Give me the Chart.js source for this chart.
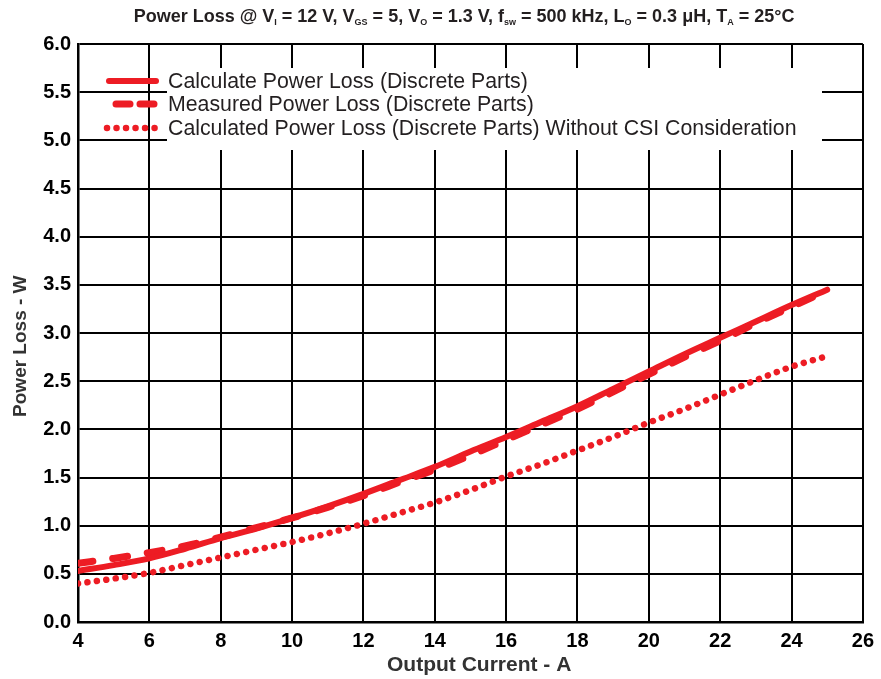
<!DOCTYPE html>
<html>
<head>
<meta charset="utf-8">
<script src="https://cdn.jsdelivr.net/npm/chart.js@4.4.0/dist/chart.umd.min.js"></script>
<style>
    html, body { margin: 0; padding: 0; background: #fff; }
    #wrap { width: 881px; height: 679px; }
</style>
</head>
<body>
<div id="wrap"><canvas id="lossChart" width="881" height="679"></canvas></div>
<script>
// Output current (A)
const currents = [4, 5, 6, 7, 8, 9, 10, 11, 12, 13, 14, 15, 16, 17, 18, 19, 20, 21, 22, 23, 24, 25];
// Power loss (W)
const calcLoss  = [0.53, 0.59, 0.66, 0.76, 0.87, 0.97, 1.08, 1.20, 1.33, 1.47, 1.61, 1.77, 1.92, 2.08, 2.24, 2.42, 2.60, 2.78, 2.95, 3.12, 3.29, 3.45];
const measLoss  = [0.61, 0.66, 0.72, 0.79, 0.88, 0.98, 1.08, 1.19, 1.31, 1.45, 1.58, 1.73, 1.89, 2.05, 2.21, 2.39, 2.57, 2.75, 2.92, 3.10, 3.27, 3.44];
const noCsiLoss = [0.40, 0.45, 0.51, 0.59, 0.67, 0.75, 0.83, 0.92, 1.02, 1.13, 1.24, 1.37, 1.51, 1.64, 1.78, 1.92, 2.07, 2.21, 2.36, 2.51, 2.65, 2.76];

const seriesLabels = [
    'Calculate Power Loss (Discrete Parts)',
    'Measured Power Loss (Discrete Parts)',
    'Calculated Power Loss (Discrete Parts) Without CSI Consideration'
];
const xTicks = [4, 6, 8, 10, 12, 14, 16, 18, 20, 22, 24, 26];
const yTicks = [0, 0.5, 1, 1.5, 2, 2.5, 3, 3.5, 4, 4.5, 5, 5.5, 6];

// title pieces: [text, isSubscript]
const titleParts = [
    ['Power Loss @ V', false], ['I', true], [' = 12 V, V', false], ['GS', true],
    [' = 5, V', false], ['O', true], [' = 1.3 V, f', false], ['sw', true],
    [' = 500 kHz, L', false], ['O', true], [' = 0.3 \u03bcH, T', false], ['A', true],
    [' = 25\u00b0C', false]
];

const RED = '#ed1c24';
const FONT = '"Liberation Sans", Arial, Helvetica, sans-serif';

const toPoints = (ys) => currents.map((x, i) => ({ x: x, y: ys[i] }));

// Title with subscripts
const titlePlugin = {
    id: 'titlePlugin',
    afterDraw(chart) {
        const ctx = chart.ctx;
        ctx.save();
        ctx.fillStyle = '#231f20';
        ctx.textBaseline = 'alphabetic';
        const mainFont = 'bold 18px ' + FONT;
        const subFont = 'bold 9px ' + FONT;
        let total = 0;
        titleParts.forEach(p => {
            ctx.font = p[1] ? subFont : mainFont;
            total += ctx.measureText(p[0]).width;
        });
        let x = 464 - total / 2;
        const base = 22;
        titleParts.forEach(p => {
            ctx.font = p[1] ? subFont : mainFont;
            ctx.fillText(p[0], x, p[1] ? base + 3 : base);
            x += ctx.measureText(p[0]).width;
        });
        ctx.restore();
    }
};

// Legend in a white box over the grid
const legendPlugin = {
    id: 'legendPlugin',
    afterDatasetsDraw(chart) {
        const ctx = chart.ctx;
        ctx.save();
        ctx.fillStyle = '#fff';
        ctx.fillRect(167, 68, 655, 82);
        const rows = [81, 104, 128];
        chart.data.datasets.forEach((ds, i) => {
            const y = rows[i];
            ctx.strokeStyle = ds.borderColor;
            ctx.lineWidth = ds.borderWidth;
            ctx.lineCap = ds.borderCapStyle || 'butt';
            ctx.beginPath();
            if (i === 0) {
                ctx.setLineDash([]);
                ctx.moveTo(109, y); ctx.lineTo(156, y);
            } else if (i === 1) {
                ctx.setLineDash([14, 10]);
                ctx.moveTo(116, y); ctx.lineTo(154, y);
            } else {
                ctx.setLineDash(ds.borderDash);
                ctx.moveTo(107, y); ctx.lineTo(157, y);
            }
            ctx.stroke();
            ctx.setLineDash([]);
            ctx.fillStyle = '#231f20';
            ctx.font = '21.3px ' + FONT;
            ctx.textBaseline = 'middle';
            ctx.fillText(ds.label, 168, y + 1);
        });
        ctx.restore();
    }
};

const ctxLoss = document.getElementById('lossChart').getContext('2d');
const lossChart = new Chart(ctxLoss, {
    type: 'line',
    data: {
        datasets: [{
            label: seriesLabels[0],
            data: toPoints(calcLoss),
            borderColor: RED,
            borderWidth: 6,
            borderCapStyle: 'round',
            cubicInterpolationMode: 'monotone',
            pointRadius: 0,
            fill: false
        }, {
            label: seriesLabels[1],
            data: toPoints(measLoss),
            borderColor: RED,
            borderWidth: 7,
            borderDash: [15, 20],
            borderCapStyle: 'round',
            cubicInterpolationMode: 'monotone',
            pointRadius: 0,
            fill: false
        }, {
            label: seriesLabels[2],
            data: toPoints(noCsiLoss),
            borderColor: RED,
            borderWidth: 6.5,
            borderDash: [0.01, 9.5],
            borderCapStyle: 'round',
            cubicInterpolationMode: 'monotone',
            pointRadius: 0,
            fill: false
        }]
    },
    options: {
        responsive: false,
        devicePixelRatio: 1,
        animation: false,
        layout: {
            padding: { top: 44, right: 15, left: 0, bottom: 0 }
        },
        plugins: {
            legend: { display: false },
            title: { display: false },
            tooltip: { enabled: false }
        },
        scales: {
            x: {
                type: 'linear',
                min: 4,
                max: 26,
                afterBuildTicks: (scale) => { scale.ticks = xTicks.map(v => ({ value: v })); },
                afterFit: (scale) => { scale.height = 57; },
                ticks: {
                    color: '#000',
                    padding: 7,
                    font: { family: FONT, size: 20, weight: 'bold' }
                },
                grid: { color: '#000', lineWidth: 2, drawTicks: false },
                border: { color: '#000', width: 2.5 },
                title: {
                    display: true,
                    // leading spaces nudge the label right, like the original
                    text: '   Output Current - A',
                    color: '#333',
                    padding: { top: 0, bottom: 1 },
                    font: { family: FONT, size: 21, weight: 'bold' }
                }
            },
            y: {
                type: 'linear',
                min: 0,
                max: 6,
                afterBuildTicks: (scale) => { scale.ticks = yTicks.map(v => ({ value: v })); },
                afterFit: (scale) => { scale.width = 78; },
                ticks: {
                    color: '#000',
                    padding: 7,
                    callback: (v) => v.toFixed(1),
                    font: { family: FONT, size: 20, weight: 'bold' }
                },
                grid: { color: '#000', lineWidth: 2, drawTicks: false },
                border: { color: '#000', width: 2.5 },
                title: {
                    display: true,
                    // trailing spaces push the rotated label down a bit
                    text: 'Power Loss - W     ',
                    color: '#333',
                    padding: { top: 9, bottom: 0 },
                    font: { family: FONT, size: 19, weight: 'bold' }
                }
            }
        }
    },
    plugins: [titlePlugin, legendPlugin]
});
</script>
</body>
</html>
